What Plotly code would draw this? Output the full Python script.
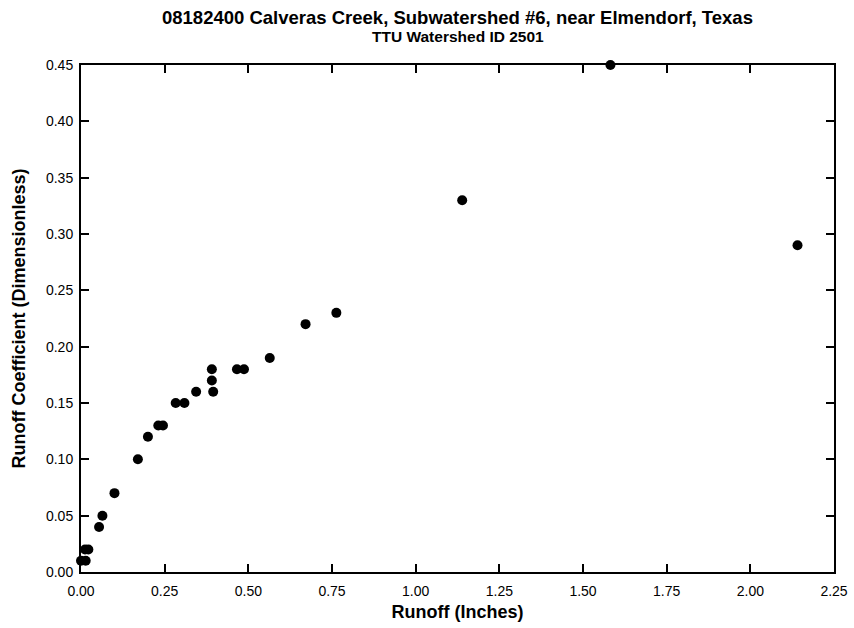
import plotly.graph_objects as go

runoff_in = [0.00, 0.014, 0.012, 0.022, 0.054, 0.064, 0.10, 0.17, 0.20, 0.231, 0.245,
             0.283, 0.309, 0.344, 0.391, 0.391, 0.395, 0.466, 0.487, 0.564, 0.671,
             0.763, 1.139, 1.582, 2.141]
runoff_coef = [0.01, 0.01, 0.02, 0.02, 0.04, 0.05, 0.07, 0.10, 0.12, 0.13, 0.13,
               0.15, 0.15, 0.16, 0.18, 0.17, 0.16, 0.18, 0.18, 0.19, 0.22,
               0.23, 0.33, 0.45, 0.29]

x_ticks = [0.00, 0.25, 0.50, 0.75, 1.00, 1.25, 1.50, 1.75, 2.00, 2.25]
y_ticks = [0.00, 0.05, 0.10, 0.15, 0.20, 0.25, 0.30, 0.35, 0.40, 0.45]

title = "08182400 Calveras Creek, Subwatershed #6, near Elmendorf, Texas"
subtitle = "TTU Watershed ID 2501"

font = "Liberation Sans, Arial, sans-serif"

L, R, T, B = 81, 20, 65, 56
W, H = 854, 628

fig = go.Figure()
fig.add_trace(go.Scatter(
    x=runoff_in, y=runoff_coef, mode="markers",
    marker=dict(color="black", size=10),
    cliponaxis=False, showlegend=False,
))

axis_common = dict(
    showgrid=False, zeroline=False, showline=True, linecolor="black", linewidth=2,
    mirror="ticks", ticks="inside", ticklen=8, tickwidth=1.5, tickcolor="black",
    tickfont=dict(family=font, size=14, color="black"), automargin=False,
)

fig.update_layout(
    width=W, height=H,
    margin=dict(l=L, r=R, t=T, b=B),
    paper_bgcolor="white", plot_bgcolor="white",
    font=dict(family=font, color="black"),
    xaxis=dict(range=[0, 2.25], tickvals=x_ticks, ticktext=[f"{v:.2f}" for v in x_ticks],
               ticklabelstandoff=5,
               title=dict(text="<b>Runoff (Inches)</b>", font=dict(family=font, size=18), standoff=8),
               **axis_common),
    yaxis=dict(range=[0, 0.45], tickvals=y_ticks, ticktext=[f"{v:.2f}" for v in y_ticks],
               ticklabelstandoff=3,
               title=dict(text="<b>Runoff Coefficient (Dimensionless)</b>", font=dict(family=font, size=18), standoff=16),
               **axis_common),
)

ph = H - T - B
fig.add_annotation(text=f"<b>{title}</b>", x=0.5, xref="paper", y=1 + (T - 17.5) / ph, yref="paper",
                   yanchor="middle", showarrow=False, font=dict(family=font, size=18.5, color="black"))
fig.add_annotation(text=f"<b>{subtitle}</b>", x=0.5, xref="paper", y=1 + (T - 37) / ph, yref="paper",
                   yanchor="middle", showarrow=False, font=dict(family=font, size=15.5, color="black"))

fig.write_html("out.html", config={"displayModeBar": False},
               post_script="document.body.style.margin='0';document.body.style.overflow='hidden';")
